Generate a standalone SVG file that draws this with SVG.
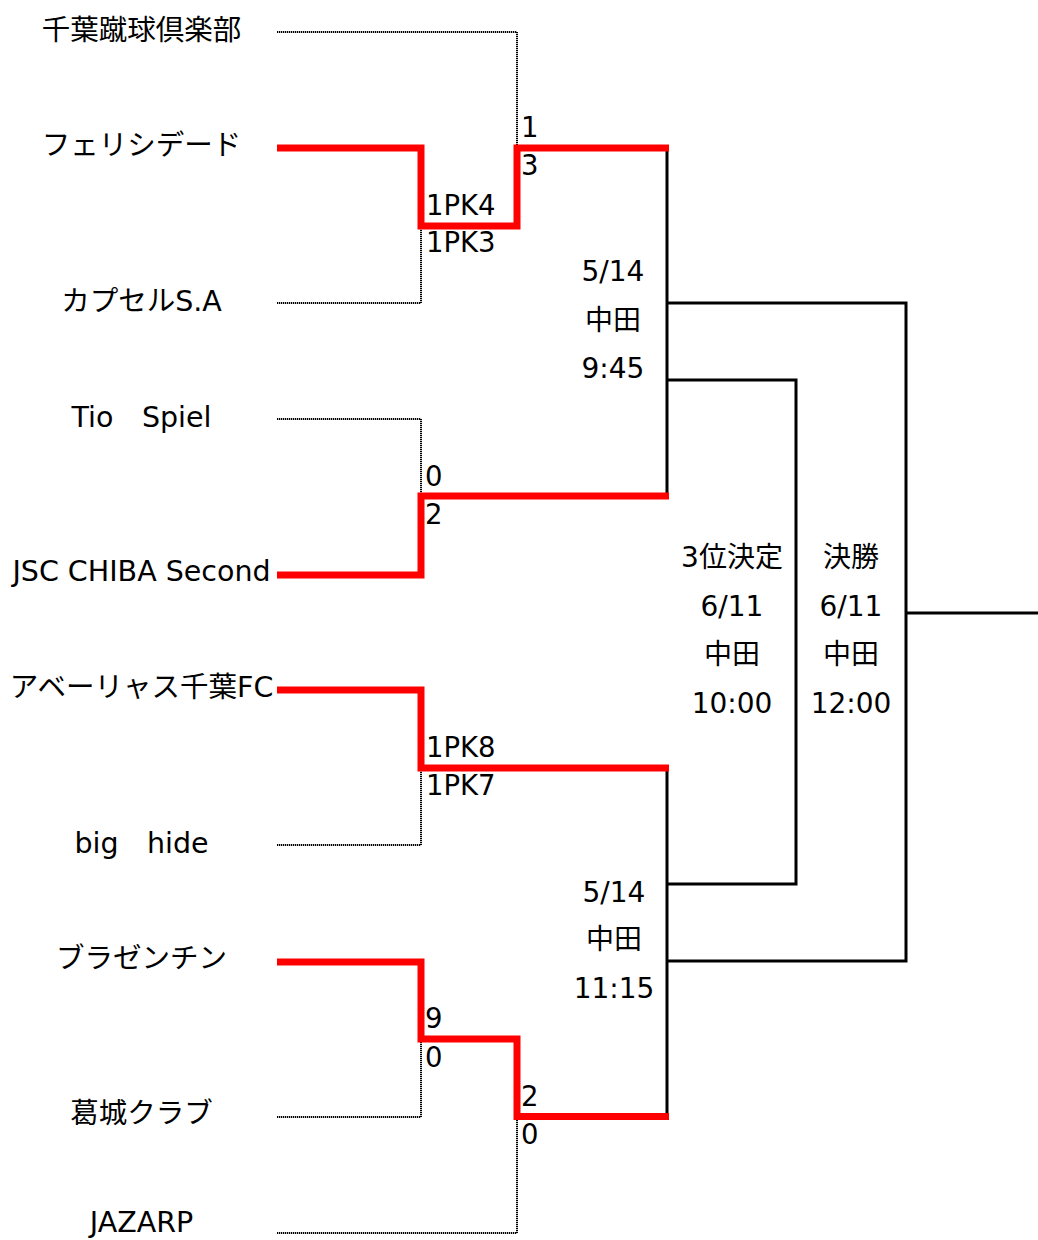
<svg xmlns="http://www.w3.org/2000/svg" width="1038" height="1240" viewBox="0 0 1038 1240">
<style>
.red{fill:none;stroke:#ff0000;stroke-width:7;stroke-linejoin:miter}
.blk{fill:none;stroke:#000;stroke-width:3;stroke-linejoin:miter}
.dot{fill:none;stroke:#000;stroke-width:2;stroke-dasharray:1.3 0.7}
text{font-family:"DejaVu Sans","Noto Sans CJK JP",sans-serif;fill:#000}
.team{font-size:28.5px;text-anchor:middle}
.score{font-size:27.5px}
.info{font-size:28px;text-anchor:middle}
</style>
<rect width="1038" height="1240" fill="#fff"/>
<g id="connectors">
<path class="dot" d="M277,32H517V145"/>
<path class="dot" d="M277,303H421V229"/>
<path class="dot" d="M277,419H421V493"/>
<path class="dot" d="M277,845H421V771"/>
<path class="dot" d="M277,1117H421V1042"/>
<path class="dot" d="M277,1233H517V1120"/>
<path class="blk" d="M667,148V496"/>
<path class="blk" d="M667,303H906V961H667"/>
<path class="blk" d="M667,380H796V884H667"/>
<path class="blk" d="M667,768V1116"/>
<path class="blk" d="M906,613H1038"/>
<path class="red" d="M277,148H421V226H517V148H669"/>
<path class="red" d="M277,575H421V496H669"/>
<path class="red" d="M277,690H421V768H669"/>
<path class="red" d="M277,962H421V1039H517V1116.5H669"/>
</g>
<g id="scores" class="score">
<text x="521" y="137">1</text>
<text x="521" y="175">3</text>
<text x="426" y="215">1PK4</text>
<text x="426" y="252">1PK3</text>
<text x="425" y="486">0</text>
<text x="425" y="524">2</text>
<text x="426" y="757">1PK8</text>
<text x="426" y="795">1PK7</text>
<text x="425" y="1028">9</text>
<text x="425" y="1067">0</text>
<text x="521" y="1106">2</text>
<text x="521" y="1144">0</text>
</g>
<g id="team1"><text class="team" x="141.5" y="40">千葉蹴球倶楽部</text></g>
<g id="team2"><text class="team" x="141.5" y="155">フェリシデード</text></g>
<g id="team3"><text class="team" x="141.5" y="311">カプセルS.A</text></g>
<g id="team4"><text class="team" x="141.5" y="427">Tio　Spiel</text></g>
<g id="team5"><text class="team" x="141.5" y="581">JSC CHIBA Second</text></g>
<g id="team6"><text class="team" x="141.5" y="697">アベーリャス千葉FC</text></g>
<g id="team7"><text class="team" x="141.5" y="853">big　hide</text></g>
<g id="team8"><text class="team" x="141.5" y="968">ブラゼンチン</text></g>
<g id="team9"><text class="team" x="141.5" y="1123">葛城クラブ</text></g>
<g id="team10"><text class="team" x="141.5" y="1232">JAZARP</text></g>
<g id="semi1" class="info">
<text x="613" y="281">5/14</text>
<text x="613" y="330">中田</text>
<text x="613" y="378">9:45</text>
</g>
<g id="semi2" class="info">
<text x="614" y="902">5/14</text>
<text x="614" y="949">中田</text>
<text x="614" y="998">11:15</text>
</g>
<g id="third" class="info">
<text x="732" y="567">3位決定</text>
<text x="732" y="616">6/11</text>
<text x="732" y="664">中田</text>
<text x="732" y="713">10:00</text>
</g>
<g id="final" class="info">
<text x="851" y="567">決勝</text>
<text x="851" y="616">6/11</text>
<text x="851" y="664">中田</text>
<text x="851" y="713">12:00</text>
</g>
</svg>
